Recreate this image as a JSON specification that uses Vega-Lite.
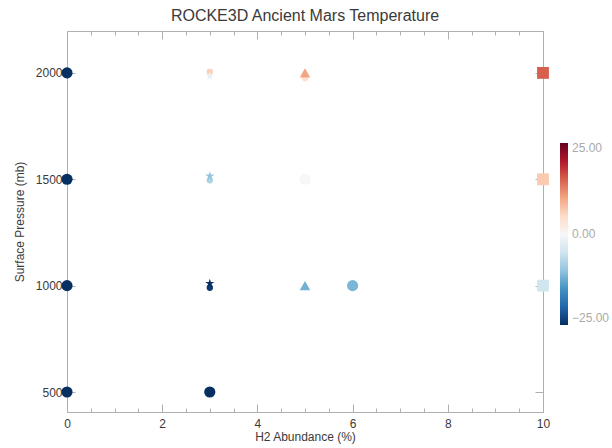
{
  "$schema": "https://vega.github.io/schema/vega-lite/v6.json",
  "autosize": "none",
  "width": 476,
  "height": 381,
  "padding": {"left": 67, "top": 31, "right": 69, "bottom": 36},
  "background": "white",
  "title": {
    "text": "ROCKE3D Ancient Mars Temperature",
    "font": "Liberation Sans",
    "fontSize": 16,
    "fontWeight": "normal",
    "color": "#3a3a3a",
    "anchor": "middle",
    "offset": 7
  },
  "config": {
    "view": {"stroke": null},
    "axis": {
      "domainColor": "#b0b0b0",
      "tickColor": "#b0b0b0",
      "labelFont": "Liberation Sans",
      "labelFontSize": 12,
      "labelColor": "#3a3a3a",
      "titleFont": "Liberation Sans",
      "titleFontSize": 12,
      "titleFontWeight": "normal",
      "titleColor": "#3a3a3a",
      "grid": false
    }
  },
  "datasets": {
    "runs": [
      {"h2": 0, "p": 2000, "t": -25, "set": "circle"},
      {"h2": 0, "p": 1500, "t": -25, "set": "circle"},
      {"h2": 0, "p": 1000, "t": -25, "set": "circle"},
      {"h2": 0, "p": 500, "t": -25, "set": "circle"},
      {"h2": 3, "p": 500, "t": -25, "set": "circle"},
      {"h2": 5, "p": 1500, "t": 0, "set": "circle"},
      {"h2": 6, "p": 1000, "t": -11.5, "set": "circle"},
      {"h2": 3, "p": 990, "t": -24, "set": "dot"},
      {"h2": 3, "p": 1495, "t": -8, "set": "dot"},
      {"h2": 3, "p": 2005, "t": 6, "set": "dot"},
      {"h2": 5, "p": 1975, "t": 4, "set": "dot"},
      {"h2": 3, "p": 1010, "t": -25, "set": "star"},
      {"h2": 3, "p": 1515, "t": -10, "set": "star"},
      {"h2": 3, "p": 1985, "t": -2, "set": "star"},
      {"h2": 5, "p": 2000, "t": 10, "set": "triangle"},
      {"h2": 5, "p": 1000, "t": -12, "set": "triangle"},
      {"h2": 10, "p": 2000, "t": 15, "set": "square"},
      {"h2": 10, "p": 1500, "t": 6.5, "set": "square"},
      {"h2": 10, "p": 1000, "t": -5, "set": "square"}
    ]
  },
  "data": {"name": "runs"},
  "resolve": {"axis": {"x": "independent", "y": "independent"}},
  "layer": [
    {
      "transform": [{"filter": "datum.set === 'circle'"}],
      "mark": {"type": "point", "shape": "circle", "filled": true, "opacity": 1, "size": 125},
      "encoding": {
        "x": {
          "field": "h2", "type": "quantitative", "title": "H2 Abundance (%)",
          "scale": {"domain": [0, 10], "nice": false, "zero": false},
          "axis": {
            "orient": "bottom",
            "values": [0, 0.5, 1, 1.5, 2, 2.5, 3, 3.5, 4, 4.5, 5, 5.5, 6, 6.5, 7, 7.5, 8, 8.5, 9, 9.5, 10],
            "format": ".0f",
            "labelExpr": "datum.value % 2 === 0 ? datum.label : ''",
            "tickSize": {"condition": {"test": "datum.value % 2 === 0", "value": -8}, "value": -4},
            "labelPadding": 14,
            "titlePadding": 2,
            "labelFlush": false
          }
        },
        "y": {
          "field": "p", "type": "quantitative", "title": "Surface Pressure (mb)",
          "scale": {"domain": [406, 2197], "nice": false, "zero": false},
          "axis": {
            "orient": "left",
            "values": [500, 1000, 1500, 2000],
            "format": "d",
            "tickSize": -8,
            "labelPadding": 13,
            "titlePadding": 9
          }
        },
        "color": {
          "field": "t",
          "type": "quantitative",
          "scale": {
            "domain": [-25, -20, -15, -10, -5, 0, 5, 10, 15, 20, 25],
            "range": ["#053061", "#2166ac", "#4393c3", "#92c5de", "#d1e5f0", "#f7f7f7", "#fddbc7", "#f4a582", "#d6604d", "#b2182b", "#67001f"],
            "clamp": true
          },
          "legend": {
            "orient": "none",
            "legendX": 493,
            "legendY": 112,
            "direction": "vertical",
            "title": null,
            "gradientLength": 182,
            "gradientThickness": 8,
            "gradientStrokeWidth": 0,
            "values": [-25, 0, 25],
            "format": ".2f",
            "labelFont": "Liberation Sans",
            "labelFontSize": 12,
            "labelColor": "#aaaaaa",
            "labelOffset": 4
          }
        }
      }
    },
    {
      "transform": [{"filter": "datum.set === 'dot'"}],
      "mark": {"type": "point", "shape": "circle", "filled": true, "opacity": 1, "size": 40},
      "encoding": {
        "x": {"field": "h2", "type": "quantitative", "axis": null},
        "y": {"field": "p", "type": "quantitative", "axis": null},
        "color": {"field": "t", "type": "quantitative"}
      }
    },
    {
      "transform": [{"filter": "datum.set === 'star'"}],
      "mark": {
        "type": "point",
        "shape": "M0,-1L0.2245,-0.309L0.951,-0.309L0.3633,0.118L0.588,0.809L0,0.382L-0.588,0.809L-0.3633,0.118L-0.951,-0.309L-0.2245,-0.309Z",
        "filled": true, "opacity": 1, "size": 90
      },
      "encoding": {
        "x": {"field": "h2", "type": "quantitative", "axis": null},
        "y": {"field": "p", "type": "quantitative", "axis": null},
        "color": {"field": "t", "type": "quantitative"}
      }
    },
    {
      "transform": [{"filter": "datum.set === 'triangle'"}],
      "mark": {"type": "point", "shape": "triangle-up", "filled": true, "opacity": 1, "size": 110},
      "encoding": {
        "x": {"field": "h2", "type": "quantitative", "axis": null},
        "y": {"field": "p", "type": "quantitative", "axis": null},
        "color": {"field": "t", "type": "quantitative"}
      }
    },
    {
      "transform": [{"filter": "datum.set === 'square'"}],
      "mark": {"type": "point", "shape": "square", "filled": true, "opacity": 1, "size": 140},
      "encoding": {
        "x": {
          "field": "h2", "type": "quantitative", "title": null,
          "axis": {
            "orient": "top",
            "values": [0, 0.5, 1, 1.5, 2, 2.5, 3, 3.5, 4, 4.5, 5, 5.5, 6, 6.5, 7, 7.5, 8, 8.5, 9, 9.5, 10],
            "labels": false,
            "tickSize": {"condition": {"test": "datum.value % 2 === 0", "value": -8}, "value": -4}
          }
        },
        "y": {
          "field": "p", "type": "quantitative", "title": null,
          "axis": {
            "orient": "right",
            "values": [500, 1000, 1500, 2000],
            "labels": false,
            "tickSize": -8
          }
        },
        "color": {"field": "t", "type": "quantitative"}
      }
    }
  ]
}
